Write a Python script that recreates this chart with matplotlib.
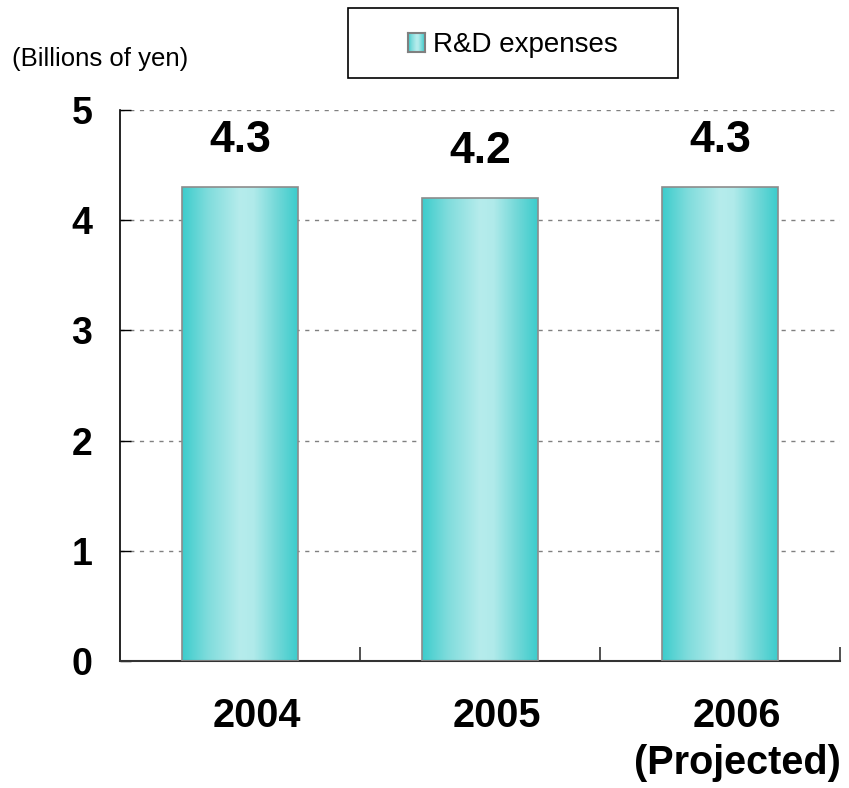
import numpy as np
import matplotlib.pyplot as plt
import matplotlib.transforms as mtransforms
from matplotlib.colors import LinearSegmentedColormap
from matplotlib.patches import Rectangle

plt.rcParams['font.family'] = ['Liberation Sans', 'DejaVu Sans']

# data
years = ["2004", "2005", "2006\n(Projected)"]
rd_expenses = [4.3, 4.2, 4.3]
value_labels = ["4.3", "4.2", "4.3"]
y_ticks = [0, 1, 2, 3, 4, 5]

# cylinder-like shading across each bar
shade = LinearSegmentedColormap.from_list(
    "shade", [(0.0, "#3ccccc"), (0.22, "#7fdcdc"), (0.5, "#b6ecec"),
              (0.62, "#b0eaea"), (0.82, "#72d8d8"), (1.0, "#3ccccc")])
grad = np.linspace(0, 1, 256).reshape(1, -1)

fig = plt.figure(figsize=(8.49, 7.88), dpi=100)
ax = fig.add_axes([120 / 849, 1 - 661 / 788, 720 / 849, 551 / 788])

x = np.arange(len(years))
width = 0.48
bars = ax.bar(x, rd_expenses, width=width, facecolor="none",
              edgecolor="#8c8c8c", linewidth=1.2, zorder=3)
for b in bars:
    x0, y0 = b.get_x(), b.get_y()
    im = ax.imshow(grad, cmap=shade, aspect="auto", zorder=2,
                   extent=(x0, x0 + b.get_width(), y0, y0 + b.get_height()))
    im.set_clip_path(b)

for xi, v, lab in zip(x, rd_expenses, value_labels):
    ax.annotate(lab, (xi, v), xytext=(0, 19), textcoords="offset points",
                ha="center", va="bottom", fontsize=32, fontweight="bold")

ax.set_xlim(-0.5, 2.5)
ax.set_ylim(0, 5)
ax.set_yticks(y_ticks)
ax.set_yticklabels([str(t) for t in y_ticks], fontsize=27, fontweight="bold")
ax.tick_params(axis="y", direction="in", length=8, width=1, pad=20)

ax.set_xticks(x)
ax.set_xticklabels(years, fontsize=28.5, fontweight="bold", linespacing=1.3)
ax.tick_params(axis="x", which="major", length=0, pad=26)
ax.set_xticks([0.5, 1.5, 2.5], minor=True)
ax.tick_params(axis="x", which="minor", direction="in", length=10,
               width=1.2, color="#333333")
shift = mtransforms.ScaledTranslation(17 / 100, 0, fig.dpi_scale_trans)
for t in ax.get_xticklabels():
    t.set_transform(t.get_transform() + shift)

for yv in y_ticks[1:]:
    ax.axhline(yv, color="#808080", linewidth=1, linestyle=(0, (3, 4)),
               zorder=1)

for s in ["top", "right"]:
    ax.spines[s].set_visible(False)
ax.spines["left"].set_color("black")
ax.spines["left"].set_linewidth(1.2)
ax.spines["bottom"].set_color("#333333")
ax.spines["bottom"].set_linewidth(1.5)

fig.text(12 / 849, 1 - 66 / 788, "(Billions of yen)", fontsize=18.5,
         va="baseline", ha="left")

# legend box
fig.patches.append(Rectangle((348 / 849, 1 - 78 / 788), 330 / 849, 70 / 788,
                             transform=fig.transFigure, facecolor="white",
                             edgecolor="black", linewidth=1.2, zorder=0))
lax = fig.add_axes([408 / 849, 1 - 52 / 788, 17 / 849, 19 / 788], zorder=5)
lax.imshow(grad, cmap=shade, aspect="auto", extent=(0, 1, 0, 1))
lax.set_xticks([])
lax.set_yticks([])
for s in lax.spines.values():
    s.set_color("#808080")
    s.set_linewidth(1.5)
fig.text(433 / 849, 1 - 52 / 788, "R&D expenses", fontsize=20,
         va="baseline", ha="left", zorder=6)

fig.savefig("out.png", dpi=100)
